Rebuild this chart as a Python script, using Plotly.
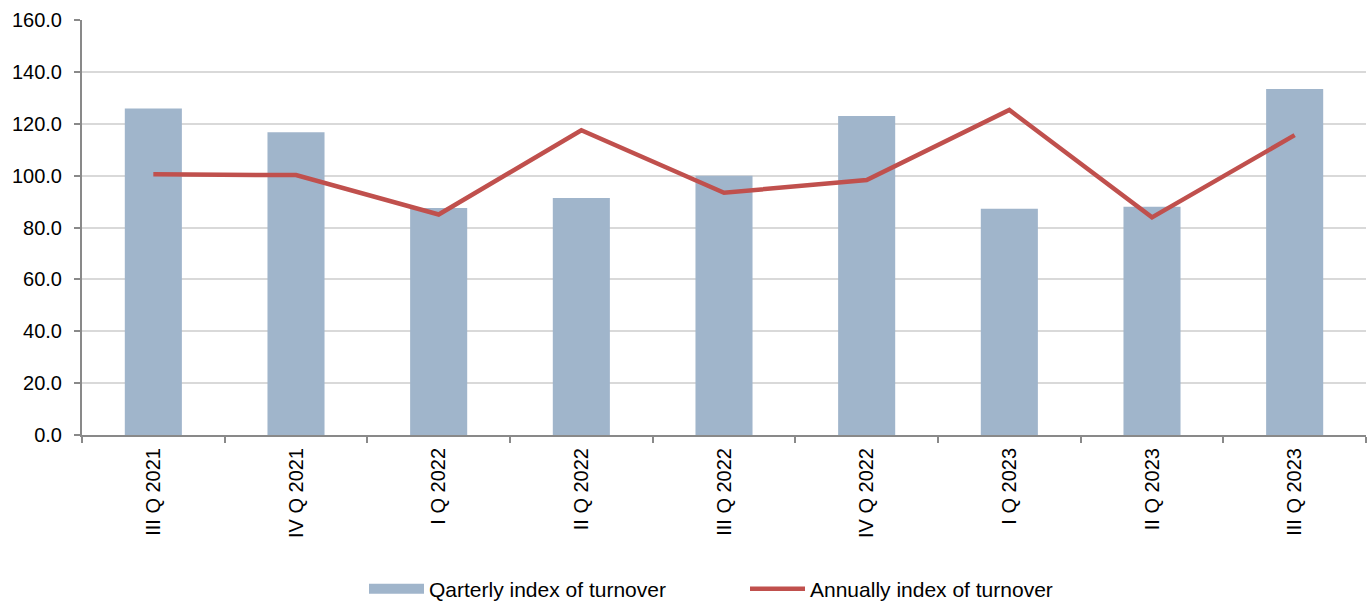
import plotly.graph_objects as go

categories = ["III Q 2021", "IV Q 2021", "I Q 2022", "II Q 2022", "III Q 2022",
              "IV Q 2022", "I Q 2023", "II Q 2023", "III Q 2023"]
quarterly = [125.9, 116.7, 87.5, 91.4, 100.0, 123.0, 87.2, 88.0, 133.4]
annually = [100.5, 100.2, 85.0, 117.5, 93.4, 98.3, 125.3, 83.9, 115.6]

font_family = "Liberation Sans, Arial, sans-serif"
bar_color = "#a0b5cb"
line_color = "#c0504d"

fig = go.Figure()
fig.add_trace(go.Bar(
    x=categories, y=quarterly, name="Qarterly index of turnover",
    marker=dict(color=bar_color, line=dict(width=0)), width=0.4,
    showlegend=False,
))
# legend-only entry giving the wide rectangular swatch of the bar series
fig.add_trace(go.Scatter(
    x=[None], y=[None], name="Qarterly index of turnover",
    mode="lines", line=dict(color=bar_color, width=12),
))
fig.add_trace(go.Scatter(
    x=categories, y=annually, name="Annually index of turnover",
    mode="lines", line=dict(color=line_color, width=4.5),
))

fig.update_layout(
    width=1371, height=601,
    margin=dict(l=82, r=5, t=20, b=166, autoexpand=False),
    paper_bgcolor="white", plot_bgcolor="white",
    font=dict(family=font_family, size=20, color="#000000"),
    showlegend=True,
    legend=dict(orientation="h", xref="container", yref="container",
                x=364 / 1371, xanchor="left", y=1 - 589 / 601, yanchor="middle",
                font=dict(size=21), entrywidth=311, tracegroupgap=0,
                traceorder="normal", itemwidth=55),
    bargap=0.6,
)
fig.update_xaxes(
    type="category", tickangle=-90, showline=True, linecolor="#898989", linewidth=2,
    ticks="outside", tickson="boundaries", ticklen=6, tickcolor="#898989", tickwidth=1.5,
    showgrid=False, tickfont=dict(size=20), automargin=False, ticklabelstandoff=3,
)
fig.update_yaxes(
    range=[0, 160], dtick=20, tickformat=".1f", showline=True, linecolor="#898989",
    linewidth=2, ticks="outside", ticklen=6, tickcolor="#898989", tickwidth=1.5,
    showgrid=True, gridcolor="#d9d9d9", gridwidth=1.5, zeroline=False,
    tickfont=dict(size=20), automargin=False, ticklabelstandoff=8,
)

fig.write_html("out.html", config={"displayModeBar": False},
               post_script="document.body.style.margin='0';")
